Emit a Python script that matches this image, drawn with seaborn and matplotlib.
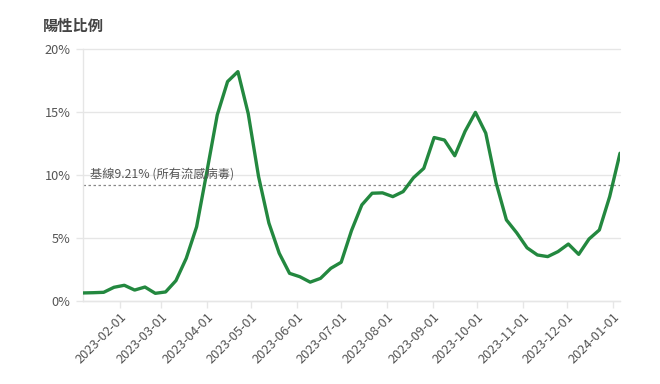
import matplotlib
matplotlib.use("Agg")
import matplotlib.pyplot as plt
import matplotlib.dates as mdates
from matplotlib.ticker import FuncFormatter
import seaborn as sns
import pandas as pd

# Weekly dates (week ending) and positive rate (%)
start_date = "2023-01-07"
n_weeks = 53
positive_rate = [
    0.64, 0.66, 0.69, 1.09, 1.25, 0.87, 1.11, 0.61, 0.72, 1.62,
    3.40, 5.90, 10.30, 14.80, 17.45, 18.24, 14.90, 9.90, 6.20, 3.80,
    2.20, 1.93, 1.50, 1.80, 2.60, 3.08, 5.60, 7.64, 8.57, 8.60,
    8.30, 8.70, 9.80, 10.55, 13.00, 12.80, 11.55, 13.50, 15.00, 13.35,
    9.40, 6.45, 5.42, 4.23, 3.66, 3.53, 3.93, 4.53, 3.71, 4.93,
    5.65, 8.30, 11.75,
]
baseline = 9.21
baseline_label = "基線9.21% (所有流感病毒)"
title = "陽性比例"
y_ticks = [0, 5, 10, 15, 20]

dates = pd.date_range(start_date, periods=n_weeks, freq="7D")
df = pd.DataFrame({"date": dates, "rate": positive_rate})

sns.set_theme(style="white")
plt.rcParams["font.family"] = ["Noto Sans CJK TC", "DejaVu Sans"]

fig = plt.figure(figsize=(6.6, 3.84), dpi=100)
ax = fig.add_axes([83 / 660, 1 - 301 / 384, (620 - 83) / 660, (301 - 49.5) / 384])

grid_c = "#e6e6e6"
for v in y_ticks:
    ax.axhline(v, color=grid_c, lw=1, zorder=0, clip_on=False)

ax.axhline(baseline, color="#888888", lw=0.9, ls=(0, (2, 2)), zorder=1)

sns.lineplot(data=df, x="date", y="rate", ax=ax, color="#23883f", lw=2.4, zorder=3)

ax.set_xlim(dates[0], dates[-1])
ax.set_ylim(0, 20)
ax.set_yticks(y_ticks)
ax.yaxis.set_major_formatter(FuncFormatter(lambda v, p: f"{v:.0f}%"))
ax.xaxis.set_major_locator(mdates.MonthLocator(bymonthday=1))
ax.xaxis.set_major_formatter(mdates.DateFormatter("%Y-%m-%d"))

ax.set_xlabel("")
ax.set_ylabel("")
for s in ["top", "right"]:
    ax.spines[s].set_visible(False)
for s in ["left", "bottom"]:
    ax.spines[s].set_color(grid_c)
    ax.spines[s].set_linewidth(1)

ax.tick_params(axis="both", which="major", length=5, width=1, color=grid_c,
               labelcolor="#555555", labelsize=9.2, left=True, bottom=True)
ax.tick_params(axis="y", pad=4)
ax.tick_params(axis="x", pad=2)
for lab in ax.get_xticklabels():
    lab.set_rotation(45)
    lab.set_ha("right")
    lab.set_rotation_mode("anchor")

ax.text(pd.Timestamp("2023-01-12"), baseline + 0.4, baseline_label,
        fontsize=8.8, color="#555555", va="bottom", ha="left")

fig.text(43 / 660, 1 - 26 / 384, title, fontsize=11, fontweight="bold",
         color="#444444", va="center", ha="left")

fig.savefig("out.png", dpi=100)
